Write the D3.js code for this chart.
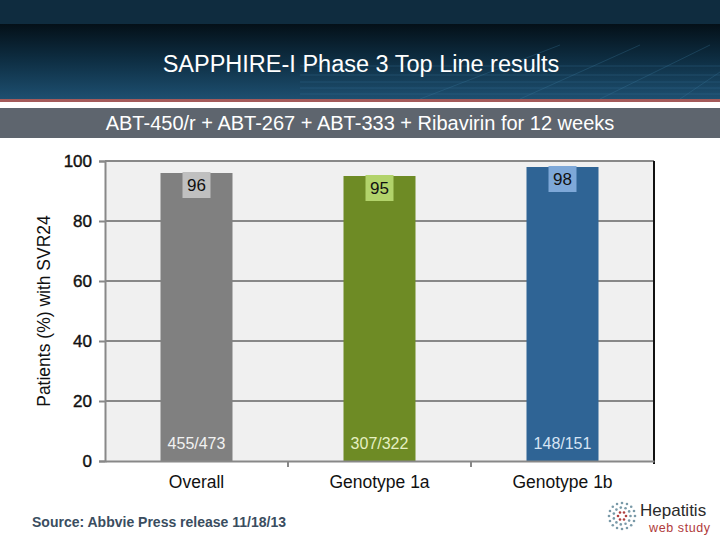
<!DOCTYPE html>
<html>
<head>
<meta charset="utf-8">
<script src="https://cdn.jsdelivr.net/npm/d3@7"></script>
<style>
  body { margin: 0; background: #fff; }
  svg { display: block; font-family: "Liberation Sans", Arial, sans-serif; }
</style>
</head>
<body>
<svg id="chart" width="720" height="540"></svg>
<script>
const categories = ["Overall", "Genotype 1a", "Genotype 1b"];
const values = [96, 95, 98];
const counts = ["455/473", "307/322", "148/151"];
const yTicks = [0, 20, 40, 60, 80, 100];
const barColors = ["#808080", "#6e8b25", "#2f6495"];
const boxColors = ["#c0c0c0", "#b2d36b", "#7ea8d8"];
const countColors = ["#f2f2f2", "#e6f0c2", "#d6e4f4"];

const width = 720, height = 540;
const margin = { top: 161, right: 66, bottom: 81, left: 105 };
const svg = d3.select("#chart");
const defs = svg.append("defs");

// header
const hg = defs.append("linearGradient").attr("id", "hdr").attr("x1", 0).attr("y1", 0).attr("x2", 0).attr("y2", 1);
hg.append("stop").attr("offset", "0").attr("stop-color", "#041018");
hg.append("stop").attr("offset", "0.45").attr("stop-color", "#0d2c40");
hg.append("stop").attr("offset", "1").attr("stop-color", "#1d4f70");
svg.append("rect").attr("width", width).attr("height", 24).attr("fill", "#0f2c3f");
svg.append("rect").attr("y", 24).attr("width", width).attr("height", 75).attr("fill", "url(#hdr)");

// faint perspective grid in the header
const hgrid = svg.append("g").attr("stroke", "#3d7aa0").attr("stroke-opacity", 0.3).attr("stroke-width", 1);
[66, 75, 82, 88, 94].forEach(y => hgrid.append("line").attr("x1", 300).attr("x2", 720).attr("y1", y).attr("y2", y));
[[420, 99, 560, 45], [520, 99, 640, 45], [600, 99, 710, 45], [680, 99, 760, 45]].forEach(l =>
  hgrid.append("line").attr("x1", l[0]).attr("y1", l[1]).attr("x2", l[2]).attr("y2", l[3]));

svg.append("rect").attr("y", 99).attr("width", width).attr("height", 3).attr("fill", "#a45a5a");
svg.append("text").attr("x", 361).attr("y", 72).attr("text-anchor", "middle")
  .attr("fill", "#fff").attr("font-size", 23.5).text("SAPPHIRE-I Phase 3 Top Line results");

svg.append("rect").attr("y", 108).attr("width", width).attr("height", 30).attr("fill", "#5e656e");
svg.append("text").attr("x", 360).attr("y", 130).attr("text-anchor", "middle")
  .attr("fill", "#fff").attr("font-size", 20).text("ABT-450/r  + ABT-267 + ABT-333 + Ribavirin for 12 weeks");

// chart
const x = d3.scaleBand().domain(categories).range([margin.left, width - margin.right]).paddingInner(0).paddingOuter(0);
const y = d3.scaleLinear().domain([0, 100]).range([height - margin.bottom + 2, margin.top]);
const barW = 72;

svg.append("rect").attr("x", margin.left).attr("y", y(100))
  .attr("width", x.range()[1] - margin.left).attr("height", y(0) - y(100)).attr("fill", "#f0f0f0");

svg.append("g").selectAll("line").data(yTicks.filter(d => d > 0)).join("line")
  .attr("x1", margin.left).attr("x2", x.range()[1])
  .attr("y1", d => y(d)).attr("y2", d => y(d))
  .attr("stroke", "#888").attr("stroke-width", 2);

const yAxis = svg.append("g").attr("transform", `translate(${margin.left},0)`)
  .call(d3.axisLeft(y).tickValues(yTicks).tickSize(6).tickPadding(7));
yAxis.select(".domain").attr("stroke", "#888").attr("stroke-width", 2);
yAxis.selectAll(".tick line").attr("stroke", "#888").attr("stroke-width", 2);
yAxis.selectAll("text").attr("font-size", 17).attr("fill", "#111")
  .attr("stroke", "#111").attr("stroke-width", 0.4)
  .attr("font-family", "Liberation Sans, Arial, sans-serif");

// right border
svg.append("line").attr("x1", x.range()[1]).attr("x2", x.range()[1])
  .attr("y1", y(100)).attr("y2", y(0) + 3).attr("stroke", "#111").attr("stroke-width", 2);

const bars = svg.append("g").selectAll("g").data(categories).join("g");
bars.append("rect")
  .attr("x", d => x(d) + x.bandwidth() / 2 - barW / 2)
  .attr("y", (d, i) => y(values[i]))
  .attr("width", barW)
  .attr("height", (d, i) => y(0) - y(values[i]))
  .attr("fill", (d, i) => barColors[i]);
bars.append("rect")
  .attr("x", d => x(d) + x.bandwidth() / 2 - 14)
  .attr("y", (d, i) => y(values[i]) - 1)
  .attr("width", 28).attr("height", 26)
  .attr("fill", (d, i) => boxColors[i]);
bars.append("text")
  .attr("x", d => x(d) + x.bandwidth() / 2)
  .attr("y", (d, i) => y(values[i]) + 18)
  .attr("text-anchor", "middle").attr("font-size", 17).attr("fill", "#111")
  .text((d, i) => values[i]);
bars.append("text")
  .attr("x", d => x(d) + x.bandwidth() / 2)
  .attr("y", y(0) - 12)
  .attr("text-anchor", "middle").attr("font-size", 16)
  .attr("fill", (d, i) => countColors[i])
  .text((d, i) => counts[i]);

// x axis
const xAxis = svg.append("g").attr("transform", `translate(0,${y(0)})`)
  .call(d3.axisBottom(x).tickSize(0).tickPadding(15));
xAxis.select(".domain").attr("stroke", "#888").attr("stroke-width", 2);
xAxis.selectAll("text").attr("font-size", 17.5).attr("fill", "#111")
  .attr("font-family", "Liberation Sans, Arial, sans-serif");
svg.append("g").selectAll("line").data(categories.slice(1)).join("line")
  .attr("x1", d => x(d)).attr("x2", d => x(d))
  .attr("y1", y(0)).attr("y2", y(0) + 6)
  .attr("stroke", "#888").attr("stroke-width", 2);

svg.append("text").attr("transform", `translate(50,${(y(0) + y(100)) / 2}) rotate(-90)`)
  .attr("text-anchor", "middle").attr("font-size", 17.5).attr("fill", "#111")
  .text("Patients (%)  with SVR24");

// footer
svg.append("text").attr("x", 32).attr("y", 527).attr("font-size", 14).attr("font-weight", "bold")
  .attr("fill", "#3a4d60").text("Source: Abbvie Press release 11/18/13");

const logo = svg.append("g").attr("transform", "translate(622,516)");
d3.range(3).forEach(r => {
  const n = 6 + r * 5, rad = 4 + r * 4.5;
  d3.range(n).forEach(k => {
    const a = k / n * Math.PI * 2;
    logo.append("circle").attr("cx", Math.cos(a) * rad).attr("cy", Math.sin(a) * rad).attr("r", 1.3)
      .attr("fill", r === 0 ? "#b04040" : "#7a9aa8");
  });
});
svg.append("text").attr("x", 640).attr("y", 516).attr("font-size", 17).attr("fill", "#2a2a2a").text("Hepatitis");
svg.append("text").attr("x", 649).attr("y", 532).attr("font-size", 12.5).attr("fill", "#b03a3a")
  .attr("letter-spacing", 0.6).text("web study");
</script>
</body>
</html>
